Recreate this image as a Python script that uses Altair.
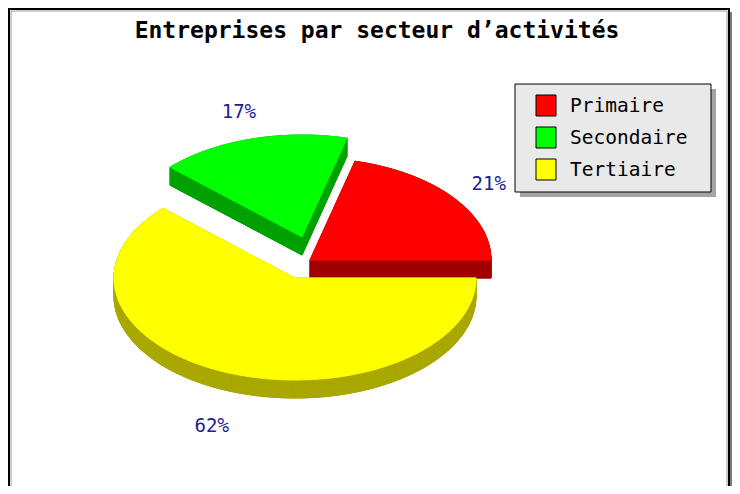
import math
import altair as alt
import pandas as pd

# ---------------- data ----------------
categories = ["Primaire", "Secondaire", "Tertiaire"]
values = [21, 17, 62]
top_colors = ["#ff0000", "#00ff00", "#ffff00"]
side_colors = ["#a00000", "#00a000", "#a8a800"]
title_text = "Entreprises par secteur d’activités"

# ---------------- layout ----------------
W, H = 724, 478          # plot area (screen px 8..732, 8..486)
X0, Y0 = 8, 8
RX, RY, DEPTH = 181, 102, 18
centers = [(310, 260), (302, 237), (295, 278)]   # top-face centre of each exploded slice
draw_order = [1, 0, 2]                            # back to front
LABEL_F = 1.25
LABEL_FY = 1.3
LABEL_COLOR = "#20208f"
MONO = "DejaVu Sans Mono"

total = sum(values)
angles = []
acc = 0.0
for v in values:
    a0 = acc / total * 2 * math.pi
    acc += v
    a1 = acc / total * 2 * math.pi
    angles.append((a0, a1))


def slice_points(i):
    cx, cy = centers[i]
    a0, a1 = angles[i]
    n = max(6, int(math.degrees(a1 - a0) / 2))
    pts = [(cx, cy)]
    for k in range(n + 1):
        a = a0 + (a1 - a0) * k / n
        pts.append((cx + RX * math.cos(a), cy - RY * math.sin(a)))
    return pts


xs = alt.Scale(domain=[X0, X0 + W], nice=False, zero=False)
ys = alt.Scale(domain=[Y0, Y0 + H], nice=False, zero=False, reverse=True)


def poly_layer(rows, color):
    df = pd.DataFrame(rows, columns=["poly", "seq", "x", "y"])
    return alt.Chart(df).mark_line(fill=color, stroke=color, strokeWidth=1, strokeJoin="round").encode(
        x=alt.X("x:Q", scale=xs, axis=None),
        y=alt.Y("y:Q", scale=ys, axis=None),
        detail="poly:N",
        order="seq:Q",
    )


def rect_layer(x, x2, y, y2, **mark):
    df = pd.DataFrame({"x": [x], "x2": [x2], "y": [y], "y2": [y2]})
    return alt.Chart(df).mark_rect(**mark).encode(
        x=alt.X("x:Q", scale=xs, axis=None), x2="x2", y=alt.Y("y:Q", scale=ys, axis=None), y2="y2")


layers = []

# frame
layers.append(rect_layer(730, 732, 12, 490, fill="#7a7a7a"))
layers.append(rect_layer(9, 729, 9, 500, fill="white", stroke="black", strokeWidth=2))
layers.append(rect_layer(11, 727, 11, 500, fill=None, stroke="#9a9a9a", strokeWidth=1))

# pie slices
for i in draw_order:
    pts = slice_points(i)
    closed = pts + [pts[0]]
    side_rows = []
    pid = 0
    for s, (x, y) in enumerate(closed):
        side_rows.append((pid, s, x, y + DEPTH))
    for k in range(len(closed) - 1):
        pid += 1
        (xa, ya), (xb, yb) = closed[k], closed[k + 1]
        quad = [(xa, ya), (xb, yb), (xb, yb + DEPTH), (xa, ya + DEPTH), (xa, ya)]
        for s, (x, y) in enumerate(quad):
            side_rows.append((pid, s, x, y))
    layers.append(poly_layer(side_rows, side_colors[i]))
    top_rows = [(0, s, x, y) for s, (x, y) in enumerate(closed)]
    layers.append(poly_layer(top_rows, top_colors[i]))

# percentage labels
lab = []
for i, v in enumerate(values):
    a0, a1 = angles[i]
    mid = (a0 + a1) / 2
    cx, cy = centers[i]
    lx = cx + LABEL_F * RX * math.cos(mid)
    ly = cy - LABEL_FY * RY * math.sin(mid) + 7 * abs(math.cos(mid)) * (1 if math.sin(mid) > 0 else 0)
    if math.sin(mid) < 0:
        ly += DEPTH + 7
    lab.append({"x": lx, "y": ly, "t": f"{round(v / total * 100)}%"})
layers.append(alt.Chart(pd.DataFrame(lab)).mark_text(
    font=MONO, fontSize=19, color=LABEL_COLOR, align="center", baseline="middle").encode(
    x=alt.X("x:Q", scale=xs, axis=None), y=alt.Y("y:Q", scale=ys, axis=None), text="t:N"))

# title
layers.append(alt.Chart(pd.DataFrame({"x": [377], "y": [31], "t": [title_text]})).mark_text(
    font=MONO, fontSize=23, fontWeight="bold", color="black", align="center", baseline="middle").encode(
    x=alt.X("x:Q", scale=xs, axis=None), y=alt.Y("y:Q", scale=ys, axis=None), text="t:N"))

# legend
LX0, LX1, LY0, LY1 = 515, 711, 84, 192
layers.append(rect_layer(LX0 + 5, LX1 + 5, LY0 + 5, LY1 + 5, fill="#a4a4a4"))
layers.append(rect_layer(LX0, LX1, LY0, LY1, fill="#e9e9e9", stroke="black", strokeWidth=1))
leg = pd.DataFrame({
    "cat": categories,
    "col": top_colors,
    "y": [95 + 32 * i for i in range(len(categories))],
    "y2": [116 + 32 * i for i in range(len(categories))],
    "ty": [105.5 + 32 * i for i in range(len(categories))],
    "x": [536] * len(categories),
    "x2": [556] * len(categories),
    "tx": [570] * len(categories),
})
layers.append(alt.Chart(leg).mark_rect(stroke="black", strokeWidth=1).encode(
    x=alt.X("x:Q", scale=xs, axis=None), x2="x2", y=alt.Y("y:Q", scale=ys, axis=None), y2="y2",
    fill=alt.Fill("col:N", scale=None)))
layers.append(alt.Chart(leg).mark_text(font=MONO, fontSize=19.5, color="black", align="left", baseline="middle").encode(
    x=alt.X("tx:Q", scale=xs, axis=None), y=alt.Y("ty:Q", scale=ys, axis=None), text="cat:N"))

chart = alt.layer(*layers).properties(
    width=W, height=H, padding=0, autosize=alt.AutoSizeParams(type="none"), background="white"
).configure_view(stroke=None)

chart.save("out.html", embed_options={"renderer": "svg", "actions": False})
